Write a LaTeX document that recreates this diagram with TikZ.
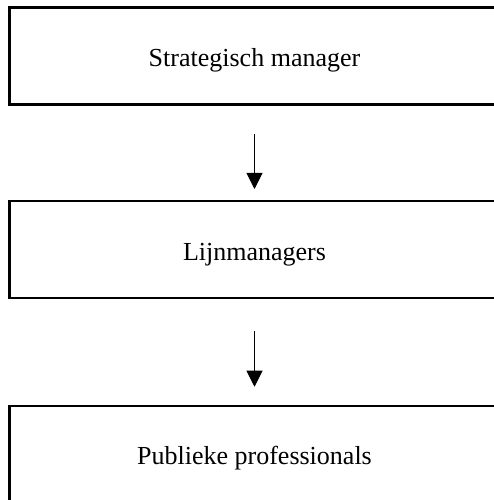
\documentclass[tikz,border=0pt]{standalone}
\usepackage{fontspec}
\setmainfont{Liberation Serif}
\usepackage{tikz}
\usetikzlibrary{arrows.meta}

\begin{document}
\begin{tikzpicture}[x=1pt,y=1pt,
        level/.style={draw, line width=2.5pt, minimum width=490pt, minimum height=97pt,
            text height=21pt, text depth=0pt, font=\fontsize{26}{31}\selectfont},
        down/.style={line width=1pt, -{Triangle[width=16pt,length=16pt]}}]
            \useasboundingbox (0,0) rectangle (494,500);
            \clip (0,0) rectangle (494,500);

            \node[level] (sm) at (254.5,443.75) {Strategisch manager};
            \node[level] (lm) at (254.5,250.25) {Lijnmanagers};
            \node[level] (pp) at (254.5,45.5) {Publieke professionals};

            \draw[down, shorten <=28pt, shorten >=11pt] (sm.south) -- (lm.north);
            \draw[down, shorten <=32pt, shorten >=18pt] (lm.south) -- (pp.north);
        \end{tikzpicture}
\end{document}
